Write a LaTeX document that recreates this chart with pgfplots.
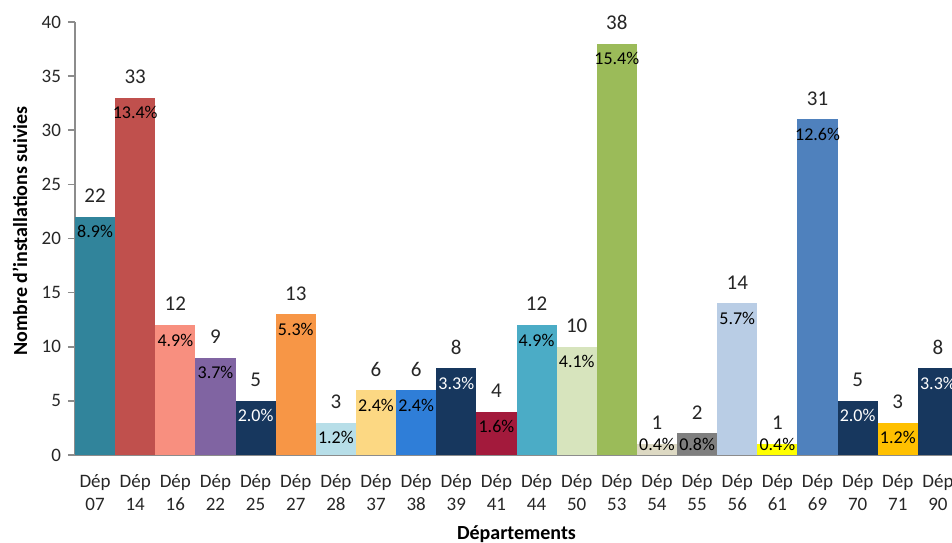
\documentclass[border=0pt]{standalone}
\usepackage{pgfplots}
\pgfplotsset{compat=1.18}
\usepackage{fontspec}
\setmainfont{Carlito}

\definecolor{axisgray}{HTML}{8C8C8C}
\definecolor{labelc}{HTML}{262626}
\definecolor{cTeal}{HTML}{31849B}
\definecolor{cRed}{HTML}{C0504D}
\definecolor{cSalmon}{HTML}{F88F7F}
\definecolor{cPurple}{HTML}{8064A2}
\definecolor{cNavy}{HTML}{17375E}
\definecolor{cOrange}{HTML}{F79646}
\definecolor{cLightBlue}{HTML}{B7DEE8}
\definecolor{cLightYellow}{HTML}{FCD883}
\definecolor{cBlue}{HTML}{2F7ED8}
\definecolor{cCrimson}{HTML}{A31A3C}
\definecolor{cCyan}{HTML}{4BACC6}
\definecolor{cLightGreen}{HTML}{D7E4BD}
\definecolor{cGreen}{HTML}{9BBB59}
\definecolor{cBeige}{HTML}{DDD9C3}
\definecolor{cGrey}{HTML}{7F7F7F}
\definecolor{cPaleBlue}{HTML}{B9CDE5}
\definecolor{cYellow}{HTML}{FFFF00}
\definecolor{cSteel}{HTML}{4F81BD}
\definecolor{cAmber}{HTML}{FFC000}

% one bar: position, count, share (%), fill, colour of the share label
\newcommand{\depbar}[5]{%
  \addplot[fill=#4, draw=none, bar shift=0pt,
    nodes near coords={#3\%},
    every node near coord/.append style={anchor=center, text=#5,
      font=\fontsize{9}{10}\selectfont,
      yshift={-min(7.5,(#2-1)*5.4125)}}]
    coordinates {(#1,#2)};
}

\begin{document}
\begin{tikzpicture}
\begin{axis}[
  name=ax,
  scale only axis,
  width=441.5pt, height=216.5pt,
  ybar, bar width=1, bar shift=0pt,
  xmin=-0.5, xmax=21.5,
  ymin=0, ymax=40,
  ytick={0,5,...,40},
  xtick={0,...,21},
  xticklabels={{Dép\\07},{Dép\\14},{Dép\\16},{Dép\\22},{Dép\\25},{Dép\\27},
    {Dép\\28},{Dép\\37},{Dép\\38},{Dép\\39},{Dép\\41},{Dép\\44},{Dép\\50},
    {Dép\\53},{Dép\\54},{Dép\\55},{Dép\\56},{Dép\\61},{Dép\\69},{Dép\\70},
    {Dép\\71},{Dép\\90}},
  axis lines*=left,
  axis line style={draw=axisgray, line width=1pt},
  tick align=outside,
  major tick length=3.5pt,
  xtick style={draw=none},
  ytick style={draw=axisgray, line width=0.8pt},
  clip=false,
  tick label style={font=\fontsize{9.5}{11.5}\selectfont, text=labelc},
  xticklabel style={align=center, yshift=-2.5pt},
  /pgf/number format/assume math mode=true,
  every axis y label/.style={at={(axis description cs:0,0.5)}, xshift=-27.5pt,
    yshift=3.75pt, rotate=90, anchor=center,
    font=\bfseries\fontsize{10}{12}\selectfont},
  every axis x label/.style={at={(axis description cs:0.5,0)}, yshift=-39.5pt,
    anchor=center, font=\bfseries\fontsize{10}{12}\selectfont},
  xlabel={Départements},
  ylabel={Nombre d'installations suivies},
]
\depbar{0}{22}{8.9}{cTeal}{black}
\depbar{1}{33}{13.4}{cRed}{black}
\depbar{2}{12}{4.9}{cSalmon}{black}
\depbar{3}{9}{3.7}{cPurple}{black}
\depbar{4}{5}{2.0}{cNavy}{white}
\depbar{5}{13}{5.3}{cOrange}{black}
\depbar{6}{3}{1.2}{cLightBlue}{black}
\depbar{7}{6}{2.4}{cLightYellow}{black}
\depbar{8}{6}{2.4}{cBlue}{black}
\depbar{9}{8}{3.3}{cNavy}{white}
\depbar{10}{4}{1.6}{cCrimson}{black}
\depbar{11}{12}{4.9}{cCyan}{black}
\depbar{12}{10}{4.1}{cLightGreen}{black}
\depbar{13}{38}{15.4}{cGreen}{black}
\depbar{14}{1}{0.4}{cBeige}{black}
\depbar{15}{2}{0.8}{cGrey}{black}
\depbar{16}{14}{5.7}{cPaleBlue}{black}
\depbar{17}{1}{0.4}{cYellow}{black}
\depbar{18}{31}{12.6}{cSteel}{black}
\depbar{19}{5}{2.0}{cNavy}{white}
\depbar{20}{3}{1.2}{cAmber}{black}
\depbar{21}{8}{3.3}{cNavy}{white}
% counts above the bars
\addplot[draw=none, fill=none, bar shift=0pt,
  nodes near coords,
  every node near coord/.append style={anchor=center, yshift=10.5pt,
    text=labelc, font=\fontsize{10.5}{12}\selectfont}]
  coordinates {(0,22) (1,33) (2,12) (3,9) (4,5) (5,13) (6,3) (7,6) (8,6)
    (9,8) (10,4) (11,12) (12,10) (13,38) (14,1) (15,2) (16,14) (17,1)
    (18,31) (19,5) (20,3) (21,8)};
\end{axis}
\pgfresetboundingbox
\path[use as bounding box] ([shift={(-37.5pt,-43.5pt)}]ax.south west)
  rectangle ([shift={(438.5pt,11pt)}]ax.north west);
\end{tikzpicture}
\end{document}
